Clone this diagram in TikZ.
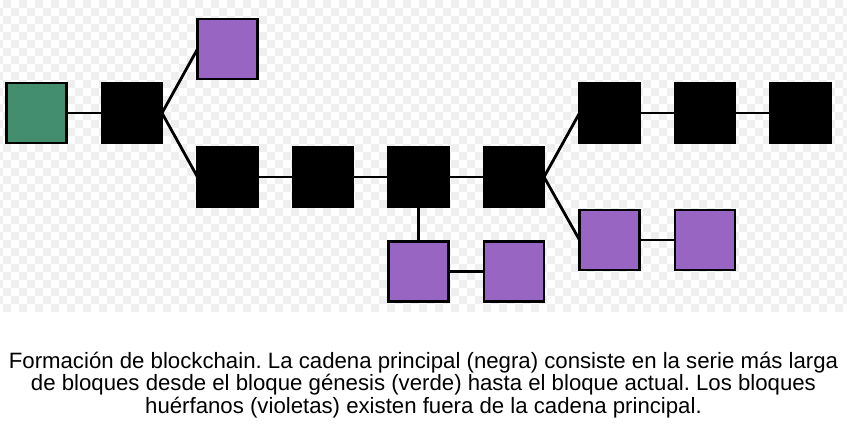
\documentclass[tikz,border=0pt]{standalone}
\usepackage{fontspec}
\setmainfont{Liberation Sans}
\usetikzlibrary{positioning}

\definecolor{genesisgreen}{HTML}{438E6F}
\definecolor{orphanviolet}{HTML}{9866C2}
\definecolor{checkgray}{HTML}{EFEFEF}

\begin{document}
\frenchspacing
\begin{tikzpicture}[
  x=0.03cm,y=-0.03cm,
  node distance=1.065cm,
  block/.style={draw=black,fill=black,line width=2.4pt,
    minimum size=1.8cm,outer sep=0pt,inner sep=0pt},
  genesis/.style={block,fill=genesisgreen},
  orphan/.style={block,fill=orphanviolet},
  link/.style={line width=2.4pt},
  caption/.style={font=\fontsize{18.95}{17.8}\selectfont,align=center}]
  \useasboundingbox (0,0) rectangle (847,439);

  % transparent background
  \begin{scope}
    \clip (0,0) rectangle (847,312);
    \foreach \r in {0,...,38}
      \foreach \k in {0,...,53}
        \fill[checkgray] ({3+16*\k-8*mod(\r,2)},8*\r) rectangle ++(8,8);
  \end{scope}

  % main chain
  \node[genesis] (gen) at (36.5,113) {};
  \node[block,right=of gen] (b1) {};
  \node[orphan,right=of b1,yshift=1.92cm] (o1) {};
  \node[block,right=of b1,yshift=-1.92cm] (b2) {};
  \node[block,right=of b2] (b3) {};
  \node[block,right=of b3] (b4) {};
  \node[block,right=of b4] (b5) {};
  \node[block,right=of b5,yshift=1.92cm] (b6) {};
  \node[block,right=of b6] (b7) {};
  \node[block,right=of b7] (b8) {};

  % orphans
  \node[orphan,below=1.035cm of b4] (o2) {};
  \node[orphan,right=of o2] (o3) {};
  \node[orphan,right=of b5,yshift=-1.89cm] (o4) {};
  \node[orphan,right=of o4] (o5) {};

  \draw[link] (gen) -- (b1);
  \draw[link] (b1.east) -- (o1.west);
  \draw[link] (b1.east) -- (b2.west);
  \draw[link] (b2) -- (b3);
  \draw[link] (b3) -- (b4);
  \draw[link] (b4) -- (b5);
  \draw[link] (b5.east) -- (b6.west);
  \draw[link] (b6) -- (b7);
  \draw[link] (b7) -- (b8);
  \draw[link] (b4) -- (o2);
  \draw[link] (o2) -- (o3);
  \draw[link] (b5.east) -- (o4.west);
  \draw[link] (o4) -- (o5);

  \node[caption] (cap) at (423.5,385)
    {Formación de blockchain. La cadena principal (negra) consiste en la serie más larga\\
    de bloques desde el bloque génesis (verde) hasta el bloque actual. Los bloques\\
    huérfanos (violetas) existen fuera de la cadena principal.};
\end{tikzpicture}
\end{document}
